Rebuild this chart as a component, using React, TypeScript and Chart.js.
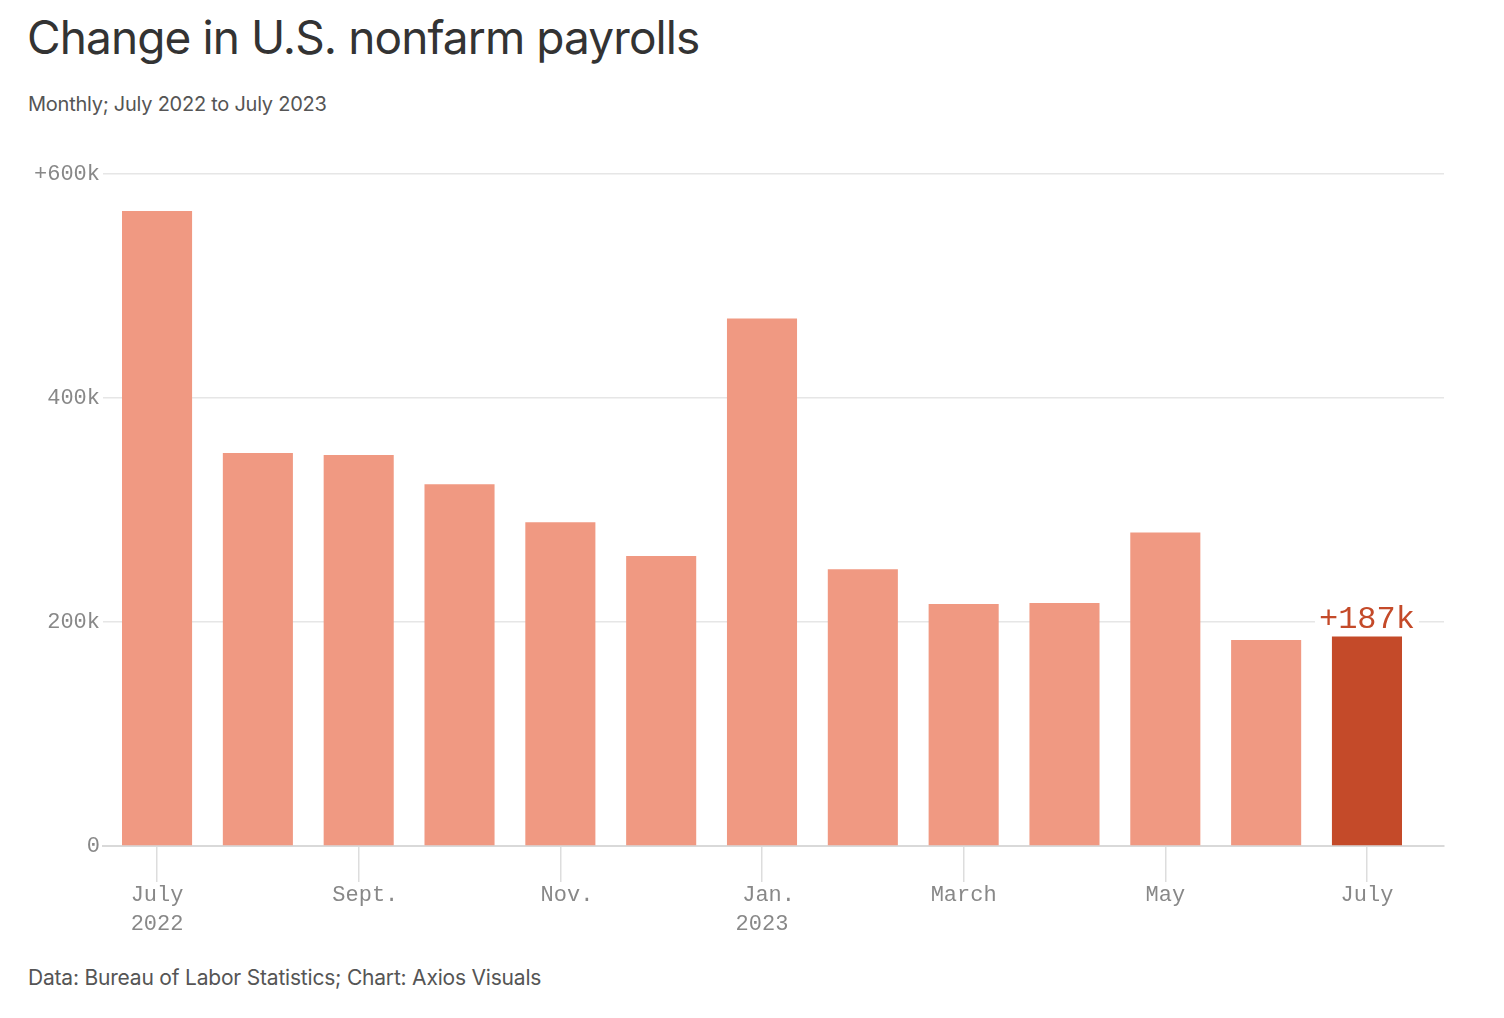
import React, { useEffect, useRef } from 'react';
import { Chart, registerables } from 'chart.js';

Chart.register(...registerables);

// monthly change in nonfarm payrolls, thousands
const months = [
  'July 2022', 'Aug. 2022', 'Sept. 2022', 'Oct. 2022', 'Nov. 2022', 'Dec. 2022',
  'Jan. 2023', 'Feb. 2023', 'March 2023', 'April 2023', 'May 2023', 'June 2023', 'July 2023',
];
const payrolls = [567, 351, 349, 323, 289, 259, 471, 247, 216, 217, 280, 184, 187];

// x labels every other month (abbreviation dots hang past the centre)
const tickEvery = 2;
const xTickLabels = [['July', '2022'], [' Sept.'], [' Nov.'], [' Jan.', '2023'], ['March'], ['May'], ['July']];
const yTicks = [0, 200, 400, 600];
const yTickLabels = ['0', '200k', '400k', '+600k'];

const highlightIndex = payrolls.length - 1;
const LIGHT = '#f09982';
const DARK = '#c44a29';
const MONO = '"Liberation Mono", "DejaVu Sans Mono", monospace';

const highlightLabel = {
  id: 'highlightLabel',
  afterDatasetsDraw(chart: any) {
    const bar = chart.getDatasetMeta(0).data[highlightIndex];
    if (!bar) return;
    const ctx = chart.ctx;
    const text = '+' + payrolls[highlightIndex] + 'k';
    ctx.save();
    ctx.font = '32px ' + MONO;
    const w = ctx.measureText(text).width;
    const base = bar.y - 9;
    ctx.fillStyle = '#fff';
    ctx.fillRect(bar.x - w / 2 - 4, base - 24, w + 8, 26);
    ctx.fillStyle = DARK;
    ctx.textAlign = 'center';
    ctx.textBaseline = 'alphabetic';
    ctx.fillText(text, bar.x, base);
    ctx.restore();
  },
};

const PayrollChart = () => {
  const canvasRef = useRef<HTMLCanvasElement>(null);
  const chartRef = useRef<Chart | null>(null);

  useEffect(() => {
    if (!canvasRef.current) return;
    chartRef.current = new Chart(canvasRef.current, {
      type: 'bar',
      data: {
        datasets: [
          {
            label: 'Change in nonfarm payrolls',
            data: payrolls.map((v, i) => ({ x: i, y: v })),
            backgroundColor: payrolls.map((_, i) => (i === highlightIndex ? DARK : LIGHT)),
            borderWidth: 0,
            categoryPercentage: 1,
            barPercentage: 0.695,
          },
        ],
      },
      options: {
        animation: false,
        responsive: true,
        maintainAspectRatio: false,
        layout: { padding: { left: 0, right: 60, top: 43, bottom: 0 } },
        plugins: {
          legend: { display: false },
          tooltip: { enabled: false },
        },
        scales: {
          x: {
            type: 'linear',
            offset: false,
            min: -0.536,
            max: 12.764,
            afterBuildTicks: (scale: any) => {
              scale.ticks = xTickLabels.map((_, i) => ({ value: i * tickEvery }));
            },
            afterFit: (scale: any) => {
              scale.height = 100;
            },
            ticks: {
              padding: -1,
              color: '#888',
              font: { family: MONO, size: 22, lineHeight: '29px' },
              callback: (v: any) => xTickLabels[Math.round(v / tickEvery)],
            },
            grid: {
              offset: false,
              drawOnChartArea: false,
              drawTicks: true,
              tickLength: 36,
              color: '#ddd',
              lineWidth: 1.5,
            },
            border: { display: true, color: '#d9d9d9', width: 2 },
          },
          y: {
            min: 0,
            max: 600,
            afterBuildTicks: (scale: any) => {
              scale.ticks = yTicks.map((v) => ({ value: v }));
            },
            afterFit: (scale: any) => {
              scale.width = 103;
            },
            ticks: {
              padding: 3,
              color: '#888',
              font: { family: MONO, size: 22 },
              callback: (v: any) => yTickLabels[yTicks.indexOf(v)],
            },
            grid: { color: '#e6e6e6', lineWidth: 1.5, drawTicks: false },
            border: { display: false },
          },
        },
      },
      plugins: [highlightLabel],
    });
    return () => {
      if (chartRef.current) {
        chartRef.current.destroy();
        chartRef.current = null;
      }
    };
  }, []);

  return <canvas ref={canvasRef} />;
};

const textFont = 'Inter, "Noto Sans", sans-serif';

export default function App() {
  useEffect(() => {
    document.body.style.margin = '0';
  }, []);
  return (
    <div style={{ position: 'relative', width: 1504, height: 1018, background: '#fff', fontFamily: textFont }}>
      <div style={{ position: 'absolute', left: 27, top: 9, fontSize: 46, lineHeight: '56px', color: '#333', letterSpacing: -0.9, whiteSpace: 'nowrap' }}>
        Change in U.S. nonfarm payrolls
      </div>
      <div style={{ position: 'absolute', left: 28, top: 92, fontSize: 20, lineHeight: '24px', color: '#555', letterSpacing: -0.25, whiteSpace: 'nowrap' }}>
        Monthly; July 2022 to July 2023
      </div>
      <div style={{ position: 'absolute', left: 0, top: 131, width: 1504, height: 815 }}>
        <PayrollChart />
      </div>
      <div style={{ position: 'absolute', left: 28, top: 965, fontSize: 21, lineHeight: '25px', color: '#555', letterSpacing: -0.2, whiteSpace: 'nowrap' }}>
        Data: Bureau of Labor Statistics; Chart: Axios Visuals
      </div>
    </div>
  );
}
